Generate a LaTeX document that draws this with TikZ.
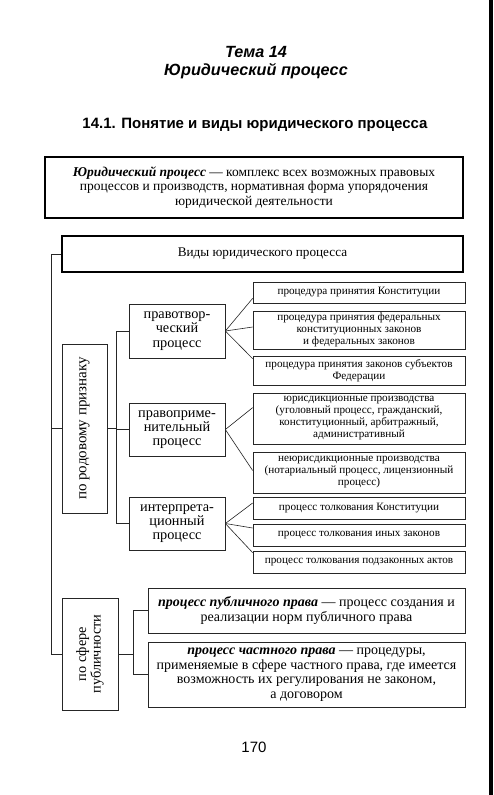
\documentclass[tikz,border=0pt]{standalone}
\usepackage{fontspec}
\setmainfont{Liberation Serif}
\newfontfamily\headfont{Liberation Sans}
\begin{document}
\begin{tikzpicture}[x=1pt,y=-1pt,
  box/.style={draw=black!85,line width=0.7pt,inner sep=0pt,align=center},
  thickbox/.style={draw=black,line width=2pt,inner sep=0pt,align=center},
  conn/.style={draw=black!85,line width=0.6pt},
  rtext/.style={font=\fontsize{11.2}{12}\selectfont},
  ptext/.style={font=\fontsize{14.3}{14.3}\selectfont},
  btext/.style={font=\fontsize{14}{14.5}\selectfont}]
\useasboundingbox (0,0) rectangle (493,795);
\fill[white] (0,0) rectangle (493,795);
\fill[black] (489,0) rectangle (493,795);
% headings
\node[font=\headfont\bfseries\itshape\fontsize{16.2}{18}\selectfont] (t1) at (256,52) {Тема 14};
\node[font=\headfont\bfseries\itshape\fontsize{16.2}{18}\selectfont] (t2) at (256,71) {Юридический процесс};
\node[font=\headfont\bfseries\fontsize{15}{17}\selectfont] (t3) at (255,125) {14.1. Понятие и виды юридического процесса};
% main boxes
\node[thickbox,minimum width=418,minimum height=61,font=\fontsize{13.5}{14.2}\selectfont] (def) at (254,187.5)
  {\textbf{\textit{Юридический процесс}} — комплекс всех возможных правовых\\процессов и производств, нормативная форма упорядочения\\юридической деятельности};
\node[thickbox,minimum width=401,minimum height=36,font=\fontsize{13.2}{14}\selectfont] (vidy) at (262.5,254) {Виды юридического процесса};
\node[box,minimum width=45,minimum height=169] (rod) at (84.5,428.5) {};
\node[font=\fontsize{15}{16}\selectfont,rotate=90] (rodt) at (rod.center) {по родовому признаку};
\node[box,minimum width=56,minimum height=112] (sfera) at (90,654) {};
\node[font=\fontsize{14.3}{14.5}\selectfont,rotate=90,align=center] (sferat) at (sfera.center) {по сфере\\публичности};
% process boxes
\node[box,ptext,minimum width=96,minimum height=54] (p1) at (177,331) {правотвор-\\ческий\\процесс};
\node[box,ptext,minimum width=96,minimum height=53] (p2) at (177,429.5) {правоприме-\\нительный\\процесс};
\node[box,ptext,minimum width=96,minimum height=53] (p3) at (177,523.5) {интерпрета-\\ционный\\процесс};
% right boxes
\node[box,rtext,minimum width=212,minimum height=21] (r1) at (359,292.5) {процедура принятия Конституции};
\node[box,rtext,minimum width=212,minimum height=38] (r2) at (359,330) {процедура принятия федеральных\\конституционных законов\\и федеральных законов};
\node[box,rtext,minimum width=212,minimum height=29] (r3) at (359,370.5) {процедура принятия законов субъектов\\Федерации};
\node[box,rtext,minimum width=212,minimum height=51] (r4) at (359,418.5) {юрисдикционные производства\\(уголовный процесс, гражданский,\\конституционный, арбитражный,\\административный};
\node[box,rtext,minimum width=212,minimum height=41] (r5) at (359,472.5) {неюрисдикционные производства\\(нотариальный процесс, лицензионный\\процесс)};
\node[box,rtext,minimum width=212,minimum height=22] (r6) at (359,508) {процесс толкования Конституции};
\node[box,rtext,minimum width=212,minimum height=22] (r7) at (359,535) {процесс толкования иных законов};
\node[box,rtext,minimum width=212,minimum height=22] (r8) at (359,562) {процесс толкования подзаконных актов};
% bottom boxes
\node[box,btext,minimum width=317,minimum height=45] (pub) at (306.5,610.5)
  {\textbf{\textit{процесс публичного права}} — процесс создания и\\реализации норм публичного права};
\node[box,btext,minimum width=317,minimum height=65] (priv) at (306.5,674.5)
  {\textbf{\textit{процесс частного права}} — процедуры,\\применяемые в сфере частного права, где имеется\\возможность их регулирования не законом,\\а договором};
% page number
\node[font=\headfont\fontsize{15}{17}\selectfont] (pg) at (254,747) {170};
% connectors
\draw[conn] (vidy.west) -- ++(-10,0) |- (sfera.west);
\draw[conn] (rod.west) -- ++(-10,0);
\draw[conn] (rod.east) -- ++(10,0);
\draw[conn] (p1.west) -- ++(-12,0) |- (p3.west);
\draw[conn] (p2.west) -- ++(-12,0);
\draw[conn] (p1.east) -- ([yshift=5pt]r1.south west);
\draw[conn] (p1.east) -- ([yshift=3pt]r2.west);
\draw[conn] (p1.east) -- ([yshift=-3pt]r3.north west);
\draw[conn] (p2.east) -- ([yshift=-15pt]r4.north west);
\draw[conn] (p2.east) -- ([yshift=2pt]r5.west);
\draw[conn] (p3.east) -- ([yshift=5pt]r6.west);
\draw[conn] (p3.east) -- ([yshift=7pt]r7.west);
\draw[conn] (p3.east) -- ([yshift=-2pt]r8.north west);
\draw[conn] (sfera.east) -- ++(16,0);
\draw[conn] (pub.west) -- ++(-14,0) |- (priv.west);
\end{tikzpicture}
\end{document}
